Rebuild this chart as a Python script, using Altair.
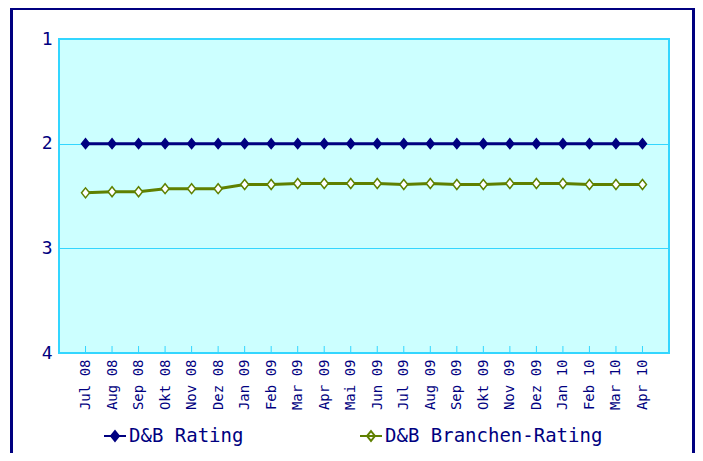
import altair as alt
import pandas as pd

months = ["Jul 08", "Aug 08", "Sep 08", "Okt 08", "Nov 08", "Dez 08",
          "Jan 09", "Feb 09", "Mar 09", "Apr 09", "Mai 09", "Jun 09",
          "Jul 09", "Aug 09", "Sep 09", "Okt 09", "Nov 09", "Dez 09",
          "Jan 10", "Feb 10", "Mar 10", "Apr 10"]
rating = [2, 2, 2, 2, 2, 2, 2, 2, 2, 2, 2, 2,
          2, 2, 2, 2, 2, 2, 2, 2, 2, 2]
branchen = [2.47, 2.46, 2.46, 2.43, 2.43, 2.43, 2.39, 2.39, 2.38, 2.38, 2.38,
            2.38, 2.39, 2.38, 2.39, 2.39, 2.38, 2.38, 2.38, 2.39, 2.39, 2.39]
series_names = ["D&B Rating", "D&B Branchen-Rating"]
y_ticks = [1, 2, 3, 4]

rows = []
for i, m in enumerate(months):
    rows.append({"month": m, "series": series_names[0], "value": rating[i]})
    rows.append({"month": m, "series": series_names[1], "value": branchen[i]})
df = pd.DataFrame(rows)

NAVY = "#000080"
GREEN = "#5F8000"
CYAN = "#33D6FF"
BG = "#CCFFFF"
FONT = "DejaVu Sans Mono"

legend = alt.Legend(
    orient="none", legendX=44, legendY=385, direction="horizontal",
    title=None, padding=0,
    symbolType="M-1,0L1,0M0,-0.45L0.36,0L0,0.45L-0.36,0Z",
    symbolSize=484, symbolStrokeWidth=2,
    labelFont=FONT, labelFontSize=19, labelColor=NAVY, labelOffset=2,
    labelLimit=400, columnPadding=112,
)

x_enc = alt.X("month:N", sort=months,
              scale=alt.Scale(type="point", padding=1),
              axis=alt.Axis(title=None, labelAngle=270, labelAlign="right",
                            labelBaseline="middle", labelPadding=6,
                            labelFont=FONT, labelFontSize=14, labelColor=NAVY,
                            ticks=False, domain=False, grid=False))
y_enc = alt.Y("value:Q",
              scale=alt.Scale(domain=[1, 4], reverse=True, nice=False, zero=False),
              axis=alt.Axis(title=None, values=y_ticks, format="d",
                            labelFont=FONT, labelFontSize=18, labelColor=NAVY,
                            labelPadding=7, ticks=False, domain=False,
                            grid=True, gridColor=CYAN, gridWidth=1))
stroke_enc = alt.Stroke("series:N", sort=series_names,
                        scale=alt.Scale(domain=series_names, range=[NAVY, GREEN]),
                        legend=legend)
fill_enc = alt.Fill("series:N", sort=series_names,
                    scale=alt.Scale(domain=series_names, range=[NAVY, "#FFFFFF"]),
                    legend=legend)

base = alt.Chart(df)

border = base.mark_rect(filled=False, stroke=NAVY, strokeWidth=2, clip=False).encode(
    x=alt.value(-47.5), x2=alt.value(634.5), y=alt.value(-30), y2=alt.value(500))

ticks = alt.Chart(pd.DataFrame({"month": months})).mark_rule(
    color=CYAN, strokeWidth=1).encode(
    x=alt.X("month:N", sort=months, scale=alt.Scale(type="point", padding=1)),
    y=alt.value(307), y2=alt.value(314))

lines = base.mark_line(strokeWidth=3).encode(x=x_enc, y=y_enc, stroke=stroke_enc)
points = base.mark_point(shape="M0,-1L0.8,0L0,1L-0.8,0Z", size=100,
                         strokeWidth=1.5, opacity=1).encode(
    x=x_enc, y=y_enc, stroke=stroke_enc, fill=fill_enc)

chart = alt.layer(ticks, lines, points, border).properties(
    width=610, height=314,
    autosize=alt.AutoSizeParams(type="none"),
    padding={"left": 51, "top": 31, "right": 26, "bottom": 100},
    background="white",
).configure_view(fill=BG, stroke=CYAN, strokeWidth=2)

chart.save("out.html", embed_options={"renderer": "svg", "actions": False})
